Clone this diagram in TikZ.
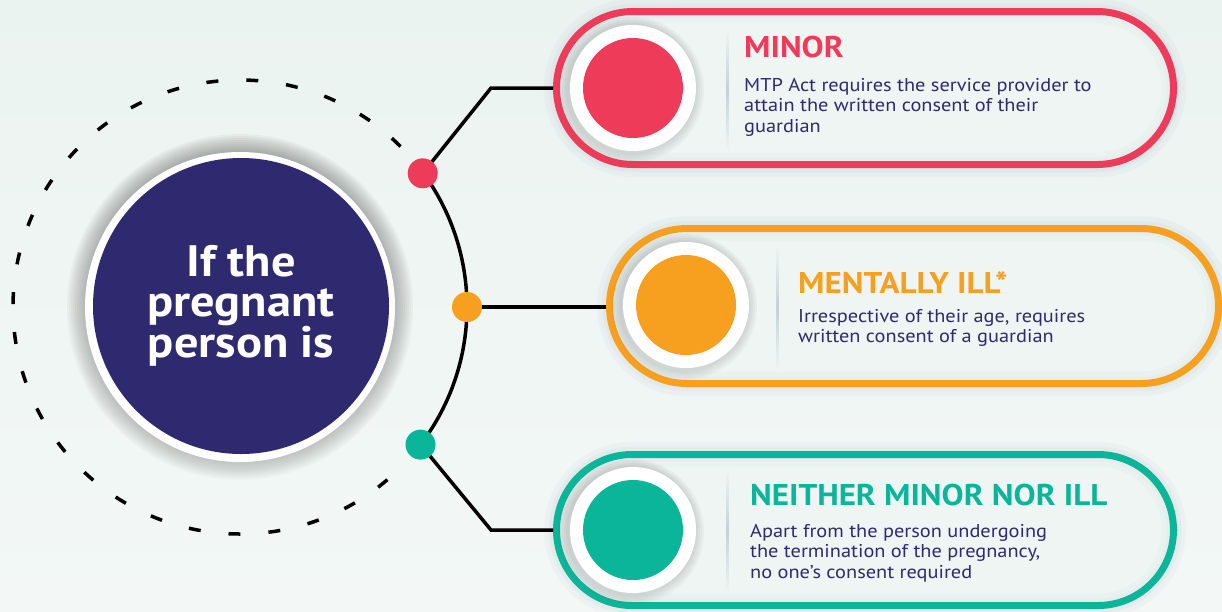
\documentclass[tikz,border=0pt]{standalone}
\usepackage{fontspec}
\setmainfont{PT Sans}[FakeStretch=1.1]
\usetikzlibrary{shapes.misc,positioning}

\definecolor{bgtop}{HTML}{EBF3F0}
\definecolor{bgbot}{HTML}{F3F8F6}
\definecolor{cardfill}{HTML}{EEF5F3}
\definecolor{navy}{HTML}{2F2A6F}
\definecolor{minorred}{HTML}{EE3B59}
\definecolor{illorange}{HTML}{F7A01F}
\definecolor{neitherteal}{HTML}{0BB599}
\definecolor{shade}{HTML}{9DB3BE}

\tikzset{
  card/.style={rounded rectangle, inner sep=0pt, outer sep=3.5pt, fill=cardfill,
    preaction={draw=shade, line width=26pt, opacity=.03},
    preaction={draw=shade, line width=16pt, opacity=.04},
    postaction={draw=shade, line width=24pt, opacity=.04},
    postaction={draw=shade, line width=14pt, opacity=.05},
    postaction={draw=#1, line width=7pt}},
  ring/.style={circle, fill=white, minimum size=126pt, inner sep=0pt},
  badge/.style={circle, fill=#1, minimum size=100pt, inner sep=0pt},
  dot/.style={circle, fill=#1, minimum size=30pt, inner sep=0pt},
  heading/.style={anchor=base west, inner sep=0pt, text=#1,
    font=\fontsize{30}{30}\selectfont\bfseries},
  blurb/.style={anchor=base west, inner sep=0pt, text=navy,
    font=\fontsize{18.5}{20.5}\selectfont},
  wire/.style={line width=3.5pt, black}
}

\newcommand{\glow}[3]{% soft shadow round a circle: centre, radius, spread
  \foreach \d in {2,4,...,#3}
    \fill[shade, opacity=.025] (#1) circle ({#2+\d pt});
}

\begin{document}
\begin{tikzpicture}[x=1pt,y=1pt]
  \useasboundingbox (0,0) rectangle (1222,-611);
  \shade[top color=bgtop, bottom color=bgbot] (0,0) rectangle (1222,-611);

  % hub
  \coordinate (hub) at (240,-307);
  \draw[line width=3.5pt, dash pattern=on 12pt off 28pt]
    (hub) ++(45:227pt) arc[start angle=45, end angle=315, radius=227pt];
  \draw[wire] (hub) ++(-37.3:227pt) arc[start angle=-37.3, end angle=36.4, radius=227pt];
  \glow{hub}{155pt}{18}
  \node[circle, fill=white, minimum size=310pt, inner sep=0pt] (hubring) at (hub) {};
  \node[circle, fill=navy, minimum size=296pt, inner sep=0pt, text=white, align=center,
    font=\fontsize{44}{40}\selectfont\bfseries] (hubtext) at (241,-306)
    {If the\\pregnant\\person is};

  % cards
  \node[card=minorred, minimum width=617pt, minimum height=153pt] (cardR) at (865,-88) {};
  \node[card=illorange, minimum width=609pt, minimum height=155pt] (cardO) at (914,-306) {};
  \node[card=neitherteal, minimum width=617pt, minimum height=151pt] (cardT) at (865,-530) {};

  \shade[top color=cardfill, bottom color=cardfill, middle color=shade!60] (726,-30) rectangle (728.5,-150);
  \shade[top color=cardfill, bottom color=cardfill, middle color=shade!60] (776,-245) rectangle (778.5,-370);
  \shade[top color=cardfill, bottom color=cardfill, middle color=shade!60] (726,-470) rectangle (728.5,-592);

  \glow{631,-90}{63pt}{10}
  \glow{684,-307}{63pt}{10}
  \glow{631,-532}{63pt}{10}
  \path (633,-88) node[ring] (ringR) {} node[badge=minorred] (badgeR) {}
        (686,-305) node[ring] (ringO) {} node[badge=illorange] (badgeO) {}
        (633,-530) node[ring] (ringT) {} node[badge=neitherteal] (badgeT) {};

  % branches
  \coordinate (dotR) at (422.7,-173.3);
  \coordinate (dotO) at (467,-307);
  \coordinate (dotT) at (420.5,-444.6);
  \coordinate (bendR) at (491,-88);
  \coordinate (bendT) at (491,-530);
  \draw[wire] (dotR) -- (bendR) -- (bendR -| cardR.west);
  \draw[wire] (dotO) -- (dotO -| cardO.west);
  \draw[wire] (dotT) -- (bendT) -- (bendT -| cardT.west);
  \path (dotR) node[dot=minorred] {}
        (dotO) node[dot=illorange] {}
        (dotT) node[dot=neitherteal] {};

  % texts
  \node[heading=minorred] (headR) at (744,-57) {MINOR};
  \node[blurb] (textR) at (744,-91) {\begin{tabular}[t]{@{}l@{}}MTP Act requires the service provider to\\attain the written consent of their\\guardian\end{tabular}};

  \node[heading=illorange] (headO) at (798,-293) {MENTALLY ILL*};
  \node[blurb] (textO) at (798,-322) {\begin{tabular}[t]{@{}l@{}}Irrespective of their age, requires\\written consent of a guardian\end{tabular}};

  \node[heading=neitherteal] (headT) at (750,-505) {NEITHER MINOR NOR ILL};
  \node[blurb] (textT) at (750,-537) {\begin{tabular}[t]{@{}l@{}}Apart from the person undergoing\\the termination of the pregnancy,\\no one’s consent required\end{tabular}};
\end{tikzpicture}
\end{document}
